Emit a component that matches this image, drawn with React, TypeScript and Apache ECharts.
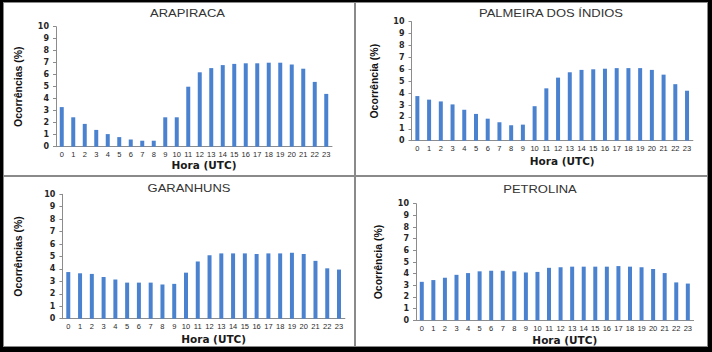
import React, { useEffect, useRef } from 'react';
import * as echarts from 'echarts';

const hours = ['0', '1', '2', '3', '4', '5', '6', '7', '8', '9', '10', '11', '12', '13', '14', '15', '16', '17', '18', '19', '20', '21', '22', '23'];

const titles = ['ARAPIRACA', 'PALMEIRA DOS ÍNDIOS', 'GARANHUNS', 'PETROLINA'];
const yNames = ['Ocorrências (%)', 'Ocorrência (%)', 'Ocorrências (%)', 'Ocorrência (%)'];
const xName = 'Hora (UTC)';

const arapiraca = [3.3, 2.45, 1.9, 1.4, 1.05, 0.8, 0.6, 0.5, 0.5, 2.45, 2.45, 5.0, 6.2, 6.55, 6.8, 6.9, 6.95, 6.95, 7.0, 7.0, 6.85, 6.5, 5.4, 4.4];
const palmeira = [3.75, 3.45, 3.3, 3.05, 2.6, 2.25, 1.85, 1.55, 1.3, 1.35, 2.9, 4.4, 5.3, 5.75, 5.95, 6.0, 6.05, 6.1, 6.1, 6.1, 5.95, 5.55, 4.75, 4.2];
const garanhuns = [3.75, 3.65, 3.6, 3.35, 3.15, 2.9, 2.9, 2.9, 2.75, 2.8, 3.7, 4.6, 5.1, 5.25, 5.25, 5.25, 5.2, 5.25, 5.25, 5.3, 5.2, 4.65, 4.05, 3.95];
const petrolina = [3.3, 3.45, 3.65, 3.9, 4.05, 4.2, 4.25, 4.25, 4.2, 4.1, 4.15, 4.5, 4.55, 4.6, 4.6, 4.6, 4.6, 4.65, 4.6, 4.55, 4.4, 4.05, 3.25, 3.15];

const seriesData = [arapiraca, palmeira, garanhuns, petrolina];

const grids = [
  { left: 56, top: 26.7, width: 276, height: 120 },
  { left: 411.5, top: 21.7, width: 281.4, height: 119 },
  { left: 62.4, top: 194.3, width: 282.5, height: 124.4 },
  { left: 416, top: 203.7, width: 277.6, height: 116.6 },
];
const titlePos = [
  [187.5, 14],
  [551, 13.5],
  [189, 188.7],
  [540, 190],
];
const yNameGap = [33, 32.5, 38.5, 33];
const xNameGap = [11, 15, 15, 14];

const BAR = '#4A82CF';

export default function App() {
  const ref = useRef<HTMLDivElement>(null);
  useEffect(() => {
    document.body.style.margin = '0';
    if (!ref.current) return;
    const chart = echarts.init(ref.current, null, { renderer: 'svg' });
    const option: any = {
      animation: false,
      grid: grids.map((g) => ({ ...g, containLabel: false })),
      xAxis: grids.map((_, i) => ({
        type: 'category',
        gridIndex: i,
        data: hours,
        name: xName,
        nameLocation: 'middle',
        nameGap: xNameGap[i],
        nameTextStyle: {
          fontFamily: 'DejaVu Sans',
          fontWeight: 'bold',
          fontSize: 10.5,
          color: '#1a1a1a',
          padding: [0, 0, 0, 20],
        },
        axisLine: { lineStyle: { color: '#8c8c8c', width: 1 } },
        axisTick: { show: false },
        axisLabel: {
          interval: 0,
          margin: 4,
          fontFamily: 'Liberation Sans',
          fontSize: 7.5,
          color: '#2a2a2a',
        },
        splitLine: { show: false },
      })),
      yAxis: grids.map((_, i) => ({
        type: 'value',
        gridIndex: i,
        min: 0,
        max: 10,
        interval: 1,
        name: yNames[i],
        nameLocation: 'middle',
        nameGap: yNameGap[i],
        nameTextStyle: {
          fontFamily: '"Liberation Sans Narrow", "Liberation Sans"',
          fontWeight: 'bold',
          fontSize: 10.5,
          color: '#111',
        },
        axisLine: { show: true, lineStyle: { color: '#8c8c8c', width: 1 } },
        axisTick: { show: true, length: 3, lineStyle: { color: '#8c8c8c' } },
        axisLabel: {
          margin: 7,
          fontFamily: 'DejaVu Sans',
          fontWeight: 'bold',
          fontSize: 8,
          color: '#262626',
        },
        splitLine: { show: false },
      })),
      series: seriesData.map((d, i) => ({
        type: 'bar',
        xAxisIndex: i,
        yAxisIndex: i,
        data: d,
        barWidth: 4,
        itemStyle: { color: BAR },
      })),
      graphic: titles.map((t, i) => ({
        type: 'text',
        x: titlePos[i][0],
        y: titlePos[i][1],
        scaleX: 1.3,
        style: {
          text: t,
          font: '10px "Liberation Sans"',
          fill: '#333',
          textAlign: 'center',
          textVerticalAlign: 'middle',
        },
      })),
    };
    chart.setOption(option);
    return () => chart.dispose();
  }, []);

  const panel = (left: number, top: number, width: number, height: number) => (
    <div
      style={{
        position: 'absolute',
        left,
        top,
        width,
        height,
        boxSizing: 'border-box',
        background: '#fff',
        border: '1px solid #8a8a8a',
      }}
    />
  );

  return (
    <div style={{ position: 'relative', width: 712, height: 352, background: '#000', overflow: 'hidden' }}>
      {panel(3, 2, 352, 174)}
      {panel(355, 2, 353, 174)}
      {panel(3, 176, 352, 171)}
      {panel(355, 176, 353, 171)}
      <div ref={ref} style={{ position: 'absolute', left: 0, top: 0, width: 712, height: 352 }} />
    </div>
  );
}
